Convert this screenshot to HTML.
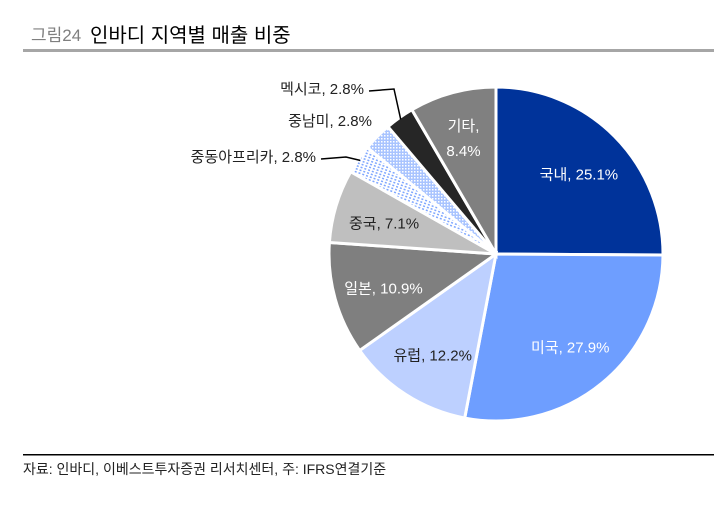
<!DOCTYPE html>
<html><head><meta charset="utf-8"><style>
body{margin:0;background:#fff;font-family:"Liberation Sans","Noto Sans CJK KR",sans-serif;}
#wrap{position:relative;width:714px;height:517px;overflow:hidden;}
</style></head><body>
<div id="wrap">
<svg id="svg" width="714" height="517" xmlns="http://www.w3.org/2000/svg" font-family="Liberation Sans, Noto Sans CJK KR, sans-serif">
<defs>
<pattern id="pDots" width="3" height="3" patternUnits="userSpaceOnUse"><rect width="3" height="3" fill="#a9c4ff"/><rect width="1.5" height="1.5" fill="#ffffff"/></pattern>
<pattern id="pLines" width="4" height="3" patternUnits="userSpaceOnUse" patternTransform="rotate(20)"><rect width="4" height="3" fill="#ffffff"/><rect width="2" height="1.5" fill="#7ea6ff"/></pattern>
</defs>
<text x="31" y="41" font-size="17" fill="#7f7f7f">그림24</text>
<text x="90" y="42" font-size="20" fill="#000">인바디 지역별 매출 비중</text>
<rect x="23" y="49" width="691" height="3" fill="#a6a6a6"/>
<g id="pie"></g>
<g id="labels"></g>
<rect x="23" y="454" width="691" height="1.5" fill="#000"/>
<text x="23" y="474" font-size="14" fill="#222">자료: 인바디, 이베스트투자증권 리서치센터, 주: IFRS연결기준</text>
</svg>
</div>
<script>
const categories=["국내","미국","유럽","일본","중국","중동아프리카","중남미","멕시코","기타"];
const values=[25.1,27.9,12.2,10.9,7.1,2.8,2.8,2.8,8.4];
const printed=["25.1%","27.9%","12.2%","10.9%","7.1%","2.8%","2.8%","2.8%","8.4%"];
const fills=["#00339a","#6e9eff","#bdd0ff","#7f7f7f","#bfbfbf","url(#pLines)","url(#pDots)","#262626","#808080"];
const textCols=["#fff","#fff","#222","#fff","#222","#222","#222","#222","#fff"];
const cx=496,cy=254,R=167;
const NS="http://www.w3.org/2000/svg";
const pie=document.getElementById('pie'),lab=document.getElementById('labels');
const total=values.reduce((a,b)=>a+b,0);
function pt(a,r){return [cx+r*Math.sin(a),cy-r*Math.cos(a)];}
let acc=0;
values.forEach((v,i)=>{
  const a0=acc/total*2*Math.PI;acc+=v;const a1=acc/total*2*Math.PI;
  const p0=pt(a0,R),p1=pt(a1,R);
  const path=document.createElementNS(NS,'path');
  path.setAttribute('d',`M${cx},${cy}L${p0[0]},${p0[1]}A${R},${R} 0 ${a1-a0>Math.PI?1:0} 1 ${p1[0]},${p1[1]}Z`);
  path.setAttribute('fill',fills[i]);path.setAttribute('stroke','#fff');path.setAttribute('stroke-width','3');
  
  
  pie.appendChild(path);
  const am=(a0+a1)/2;
  if(v>5){
    const p=pt(am,R*0.7);
    if(categories[i]==="기타"){
      [categories[i]+",",printed[i]].forEach((s,k)=>{
        const t=document.createElementNS(NS,'text');
        t.setAttribute('x',p[0]-2);t.setAttribute('y',p[1]-10+k*25);t.setAttribute('text-anchor','middle');
        t.setAttribute('font-size','15');t.setAttribute('fill',textCols[i]);t.textContent=s;
        
        
        lab.appendChild(t);
      });
    } else {
      const t=document.createElementNS(NS,'text');
      t.setAttribute('x',p[0]);t.setAttribute('y',p[1]+8);t.setAttribute('text-anchor','middle');
      t.setAttribute('font-size','15');t.setAttribute('fill',textCols[i]);
      t.textContent=categories[i]+", "+printed[i];
      
      
      lab.appendChild(t);
    }
  } else {
    const ext=[[316,157],[372,121],[364,89]][i-5];
    const e=pt(am,R-2);
    if(i!==6){
      const l=document.createElementNS(NS,'polyline');
      l.setAttribute('points',`${ext[0]+5},${ext[1]+2} ${ext[0]+30},${ext[1]} ${e[0]},${e[1]}`);
      l.setAttribute('fill','none');l.setAttribute('stroke','#000');l.setAttribute('stroke-width','1.5');
      
      
      lab.appendChild(l);
    }
    const t=document.createElementNS(NS,'text');
    t.setAttribute('x',ext[0]);t.setAttribute('y',ext[1]+5);t.setAttribute('text-anchor','end');
    t.setAttribute('font-size','15');t.setAttribute('fill','#222');
    t.textContent=categories[i]+", "+printed[i];
    
    
    lab.appendChild(t);
  }
});
</script>
</body></html>
